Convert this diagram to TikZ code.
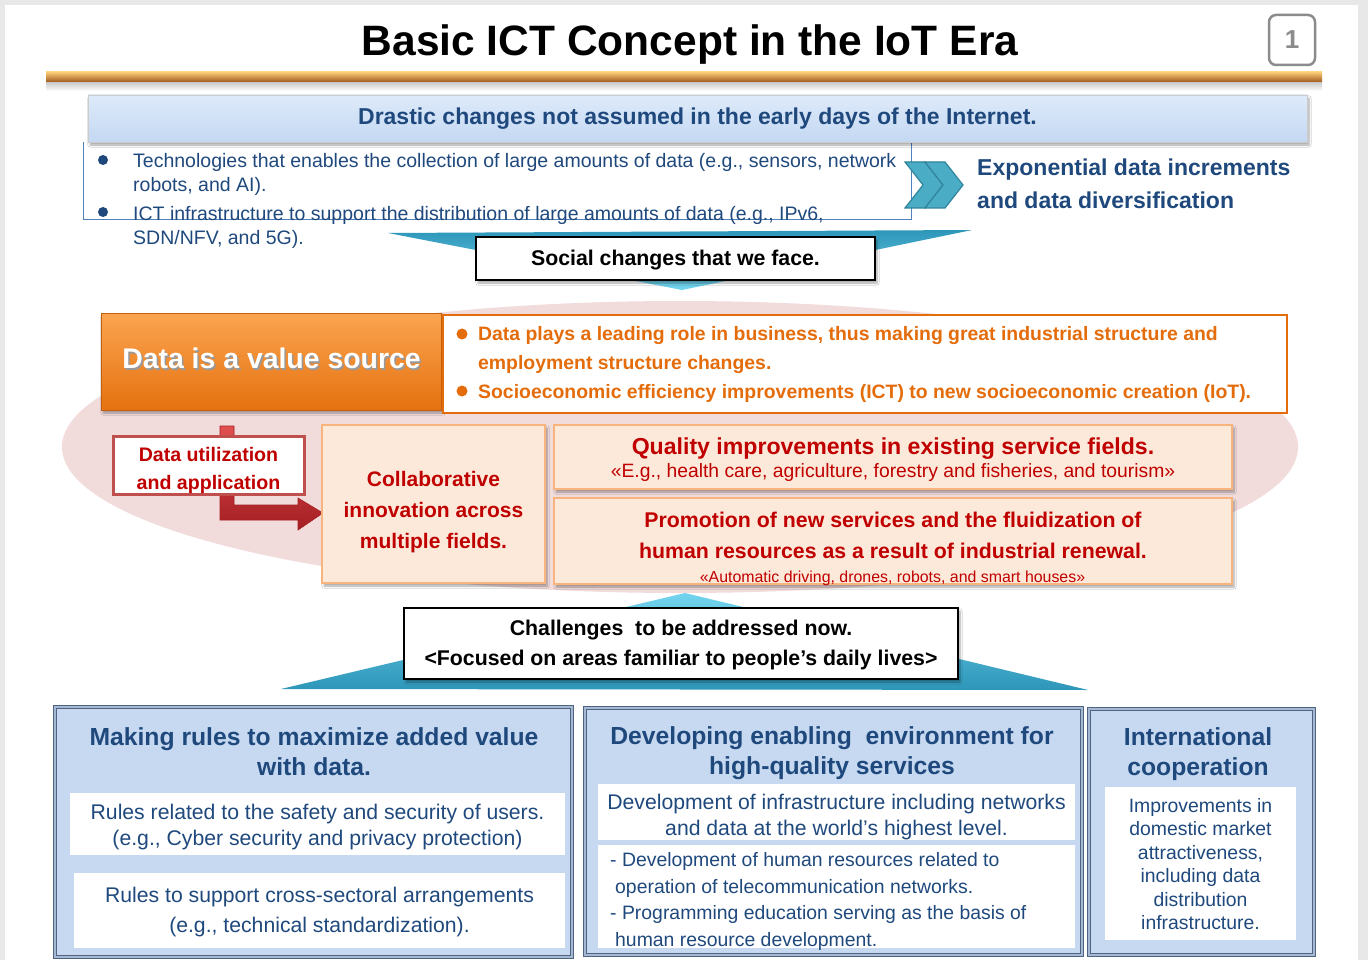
\documentclass[tikz,border=0pt]{standalone}
\usepackage{fontspec}
\setmainfont{Liberation Sans}
\usetikzlibrary{positioning,shadows.blur}

\definecolor{navy}{RGB}{31,73,125}
\definecolor{bannertop}{RGB}{222,234,250}
\definecolor{bannerbot}{RGB}{196,216,242}
\definecolor{bulletline}{RGB}{79,129,189}
\definecolor{chev}{RGB}{75,172,198}
\definecolor{chevline}{RGB}{49,133,156}
\definecolor{funneldark}{RGB}{45,150,185}
\definecolor{funnellight}{RGB}{115,212,238}
\definecolor{ruletop}{RGB}{252,205,120}
\definecolor{rulemid}{RGB}{240,160,50}
\definecolor{rulebot}{RGB}{160,90,30}
\definecolor{pinkbg}{RGB}{241,219,219}
\definecolor{orangeA}{RGB}{251,165,80}
\definecolor{orangeB}{RGB}{229,113,15}
\definecolor{orangetxt}{RGB}{228,108,10}
\definecolor{ictred}{RGB}{192,0,0}
\definecolor{utilline}{RGB}{192,80,77}
\definecolor{arrowtop}{RGB}{225,80,80}
\definecolor{arrowbot}{RGB}{165,30,35}
\definecolor{peach}{RGB}{253,233,217}
\definecolor{peachline}{RGB}{248,180,125}
\definecolor{panelfill}{RGB}{198,217,241}
\definecolor{panelline}{RGB}{79,100,130}
\definecolor{panelmid}{RGB}{165,185,210}

\newcommand{\fsz}[2]{\fontsize{#1}{#2}\selectfont}

\tikzset{
  softshadow/.style={blur shadow={shadow xshift=2pt,shadow yshift=-3pt,
      shadow blur steps=6,shadow opacity=35}},
  callout/.style={draw=black,line width=2.5pt,fill=white,softshadow},
  peachbox/.style={draw=peachline,line width=1.2pt,fill=peach,softshadow},
  panel/.style={draw=panelline,line width=1.4pt,double=panelmid,
      double distance=1.6pt,fill=panelfill},
  inner/.style={fill=white},
  headtxt/.style={text=navy,font=\bfseries\fsz{24.7}{30},align=center},
  bodytxt/.style={text=navy,font=\fsz{21.2}{26},align=center},
  redbold/.style={text=ictred,font=\bfseries\fsz{21}{31},align=center},
}

\begin{document}
\begin{tikzpicture}[x=1pt,y=-1pt,every node/.style={inner sep=0pt}]
  \useasboundingbox (0,0) rectangle (1368,960);
  % page frame
  \fill[black!9] (0,0) rectangle (1368,960);
  \fill[white] (5,5) rectangle (1358,960);

  % title and page number
  \node[font=\bfseries\fsz{42.5}{48}] (title) at (690,45) {Basic ICT Concept in the IoT Era};
  \node[draw=black!45,line width=2.5pt,rounded corners=7pt,minimum width=46,
    minimum height=50,text=black!45,font=\bfseries\fsz{26}{30}] (pagenum) at (1292,40) {1};
  \shade[top color=black!22,bottom color=white] (46,82) rectangle (1322,91);
  \shade[top color=ruletop,middle color=rulemid,bottom color=rulebot] (46,72) rectangle (1322,82);

  % drastic changes
  \draw[bulletline,line width=0.8pt] (83,142) |- (911,219) -- (911,142);
  \node[draw=black!20,top color=bannertop,bottom color=bannerbot,softshadow,
    minimum width=1219,minimum height=47,text=navy,font=\bfseries\fsz{23}{27}]
    (drastic) at (697.5,118.5) {Drastic changes not assumed in the early days of the Internet.};
  \fill[navy] (103,160) circle (5);
  \fill[navy] (103,212) circle (5);
  \node[anchor=west,text=navy,font=\fsz{19.5}{24},align=left] (tech) at (133,174.5)
    {Technologies that enables the collection of large amounts of data (e.g., sensors, network\\robots, and AI).};
  \node[anchor=west,text=navy,font=\fsz{19.5}{24},align=left] (infra) at (133,227.5)
    {ICT infrastructure to support the distribution of large amounts of data (e.g., IPv6,\\SDN/NFV, and 5G).};
  \foreach \cx in {905,925}
    \filldraw[fill=chev,draw=chevline,line width=1.2pt] (\cx,162) -- ++(20,0) -- ++(18,23)
      -- ++(-18,23) -- ++(-20,0) -- ++(18,-23) -- cycle;
  \node[anchor=west,text=navy,font=\bfseries\fsz{23}{33},align=left] (expo) at (977,184)
    {Exponential data increments\\and data diversification};

  % social changes
  \shade[top color=funneldark,bottom color=funnellight] (388,233) -- (972,230) -- (682,290) -- cycle;
  \node[callout,minimum width=399,minimum height=43] (social) at (675.5,258.5) {};
  \node[font=\bfseries\fsz{21.3}{24}] (socialtxt) at (675.5,260.5) {Social changes that we face.};

  % data as value source
  \fill[pinkbg] (680,447) ellipse [x radius=618,y radius=146];
  \node[top color=orangeA,bottom color=orangeB,draw=orangeB!85!black,line width=0.5pt,
    softshadow,minimum width=340,minimum height=97] (valuebox) at (271,361.5) {};
  \node[text=black!40,font=\bfseries\fsz{28.4}{32}] (valueshade) at (273,360) {Data is a value source};
  \node[text=white,font=\bfseries\fsz{28.4}{32}] (value) at (271.5,358.5) {Data is a value source};
  \node[draw=orangetxt,line width=2.5pt,fill=white,minimum width=844,minimum height=98]
    (rolebox) at (865,364) {};
  \fill[orangetxt] (462,334) circle (5.5);
  \fill[orangetxt] (462,391) circle (5.5);
  \node[anchor=west,text=orangetxt,font=\bfseries\fsz{19.4}{29},align=left] (roleA) at (478,350.5)
    {Data plays a leading role in business, thus making great industrial structure and\\employment structure changes.};
  \node[anchor=west,text=orangetxt,font=\bfseries\fsz{19.4}{29}] (roleB) at (478,393)
    {Socioeconomic efficiency improvements (ICT) to new socioeconomic creation (IoT).};

  % utilization arrow
  \shadedraw[top color=arrowtop,bottom color=arrowbot,draw=arrowbot,line width=0.6pt]
    (220,426) -- (234,426) -- (234,505) -- (298,505) -- (298,498) -- (323,513)
    -- (298,530) -- (298,520) -- (220,520) -- cycle;
  \node[draw=utilline,line width=3pt,fill=white,minimum width=191,minimum height=58] (util) at (208.5,465) {};
  \node[text=ictred,font=\bfseries\fsz{19.6}{28},align=center] (utiltxt) at (208.5,470)
    {Data utilization\\and application};

  % service fields
  \node[peachbox,minimum width=223,minimum height=158] (collab) at (433.5,504) {};
  \node[redbold] (collabtxt) at (433.5,512) {Collaborative\\innovation across\\multiple fields.};
  \node[peachbox,minimum width=678,minimum height=64] (quality) at (893,457) {};
  \node[text=ictred,font=\bfseries\fsz{23.1}{26}] (qualityhead) at (893,448.5)
    {Quality improvements in existing service fields.};
  \node[text=ictred,font=\fsz{19.3}{22}] (qualityeg) at (893,472.5)
    {«E.g., health care, agriculture, forestry and fisheries, and tourism»};
  \node[peachbox,minimum width=678,minimum height=86] (promo) at (893,541) {};
  \node[redbold,font=\bfseries\fsz{21.3}{31}] (promohead) at (893,535)
    {Promotion of new services and the fluidization of\\human resources as a result of industrial renewal.};
  \node[text=ictred,font=\fsz{15.9}{18}] (promoeg) at (892.5,578.5)
    {«Automatic driving, drones, robots, and smart houses»};

  % challenges
  \shade[top color=funnellight,bottom color=funneldark] (685,593) -- (1088,690) -- (281,689) -- cycle;
  \node[callout,minimum width=554,minimum height=71] (challenge) at (681,643.5) {};
  \node[font=\bfseries\fsz{21.3}{30},align=center] (challengetxt) at (681,644.5)
    {Challenges~ to be addressed now.\\<Focused on areas familiar to people’s daily lives>};

  % three policy panels
  \node[panel,minimum width=517,minimum height=250] (rules) at (313.5,832) {};
  \node[panel,minimum width=497,minimum height=247] (enable) at (833.5,831.5) {};
  \node[panel,minimum width=225,minimum height=246] (intl) at (1201.5,832) {};
  \node[headtxt] (ruleshead) at (314,752) {Making rules to maximize added value\\with data.};
  \node[headtxt] (enablehead) at (832,753) {Developing enabling~ environment for\\high-quality services};
  \node[headtxt] (intlhead) at (1198,754) {International\\cooperation};

  \node[inner,minimum width=495,minimum height=62] (rulesA) at (317.5,824) {};
  \node[bodytxt] (rulesAtxt) at (317.5,827)
    {Rules related to the safety and security of users.\\(e.g., Cyber security and privacy protection)};
  \node[inner,minimum width=491,minimum height=75] (rulesB) at (319.5,910.5) {};
  \node[bodytxt,font=\fsz{21.2}{30}] (rulesBtxt) at (319.5,912.5)
    {Rules to support cross-sectoral arrangements\\(e.g., technical standardization).};
  \node[inner,minimum width=477,minimum height=56] (enableA) at (836.5,812) {};
  \node[bodytxt] (enableAtxt) at (836.5,817.5)
    {Development of infrastructure including networks\\and data at the world’s highest level.};
  \node[inner,minimum width=477,minimum height=103] (enableB) at (836.5,896.5) {};
  \node[anchor=west,text=navy,font=\fsz{19.4}{26.6},align=left] (enableBtxt) at (610,901.5)
    {- Development of human resources related to\\\hspace*{5pt}operation of telecommunication networks.\\- Programming education serving as the basis of\\\hspace*{5pt}human resource development.};
  \node[inner,minimum width=191,minimum height=153] (intlbox) at (1200.5,863.5) {};
  \node[bodytxt,font=\fsz{19.4}{23.4}] (intltxt) at (1200.5,864)
    {Improvements in\\domestic market\\attractiveness,\\including data\\distribution\\infrastructure.};
\end{tikzpicture}
\end{document}
